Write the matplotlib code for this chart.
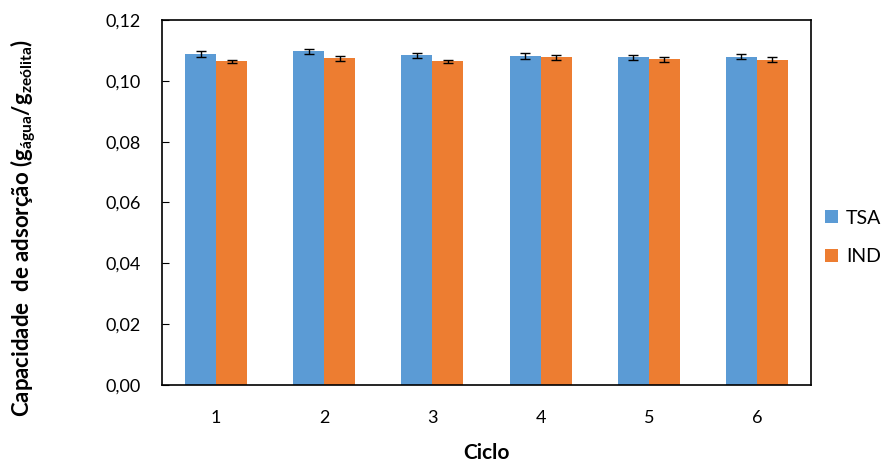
import numpy as np
import matplotlib
matplotlib.use("Agg")
import matplotlib.pyplot as plt
from matplotlib.ticker import FuncFormatter

plt.rcParams['font.family'] = ['Lato', 'DejaVu Sans']
plt.rcParams['mathtext.fontset'] = 'custom'
plt.rcParams['mathtext.rm'] = 'Lato:bold'
plt.rcParams['mathtext.it'] = 'Lato:bold'
plt.rcParams['mathtext.bf'] = 'Lato:bold'

# data
ciclos = ["1", "2", "3", "4", "5", "6"]
tsa = [0.1088, 0.1097, 0.1084, 0.1081, 0.1077, 0.1080]
tsa_err = [0.0009, 0.0009, 0.0009, 0.0009, 0.0009, 0.0008]
ind = [0.1064, 0.1074, 0.1064, 0.1077, 0.1071, 0.1070]
ind_err = [0.0006, 0.0008, 0.0006, 0.0008, 0.0008, 0.0008]

fig = plt.figure(figsize=(8.84, 4.61), dpi=100)
ax = fig.add_axes([0.1833, 0.1649, 0.7341, 0.7917])

x = np.arange(len(ciclos))
w = 0.287
err_kw = dict(ecolor='black', elinewidth=1, capsize=3.5, capthick=1)
ax.bar(x - w / 2, tsa, w, yerr=tsa_err, color='#5B9BD5', label='TSA', error_kw=err_kw)
ax.bar(x + w / 2, ind, w, yerr=ind_err, color='#ED7D31', label='IND', error_kw=err_kw)

ax.set_xlim(-0.5, len(ciclos) - 0.5)
ax.set_ylim(0, 0.12)
ax.set_yticks(np.arange(0, 0.1201, 0.02))
ax.yaxis.set_major_formatter(FuncFormatter(lambda v, p: f"{v:.2f}".replace('.', ',')))
ax.set_xticks(x)
ax.set_xticklabels(ciclos)
ax.tick_params(axis='y', direction='in', length=5, width=0.8, labelsize=13, pad=15)
ax.tick_params(axis='x', length=0, labelsize=13, pad=18)
for s in ax.spines.values():
    s.set_linewidth(1.2)

ax.set_xlabel("Ciclo", fontsize=15, fontweight='bold', labelpad=12)
ax.set_ylabel("Capacidade  de adsorção (g$_{\\mathrm{água}}$/g$_{\\mathrm{zeólita}}$)",
              fontsize=16, fontweight='bold')
ax.yaxis.set_label_coords(-0.191, 0.43)

fig.legend(loc='center left', bbox_to_anchor=(0.925, 0.485), frameon=False,
           fontsize=14, handlelength=0.65, handleheight=0.65, handletextpad=0.4,
           labelspacing=1.1, borderaxespad=0)

fig.savefig("out.png", dpi=100)
